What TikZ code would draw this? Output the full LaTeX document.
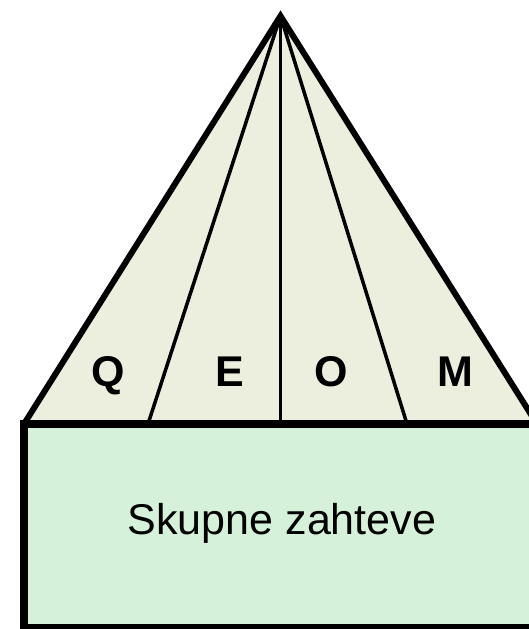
\documentclass[tikz,border=0pt]{standalone}
\usepackage{fontspec}
\setmainfont{Liberation Sans}
\definecolor{trifill}{RGB}{236,239,222}
\definecolor{boxfill}{RGB}{214,241,217}
\tikzset{
  outline/.style={draw=black, line width=6pt, line join=miter},
  boxline/.style={draw=black, line width=7.5pt, line join=miter},
  divider/.style={draw=black, line width=3.5pt},
  letter/.style={anchor=base, inner sep=0pt, font=\fontsize{43}{50}\selectfont\bfseries},
  boxtext/.style={anchor=base, inner sep=0pt, font=\fontsize{43}{50}\selectfont}
}
\begin{document}
\begin{tikzpicture}[x=1pt,y=-1pt]
\useasboundingbox (0,0) rectangle (529,629);
\clip (0,0) rectangle (529,629);
\coordinate (apex) at (280.5,16);
\coordinate (bl) at (24,424);
\coordinate (br) at (537,424);
\coordinate (d1) at (148,424);
\coordinate (d2) at (280.5,424);
\coordinate (d3) at (407,424);
\coordinate (rbl) at (24,628);
\coordinate (rbr) at (545,628);
% box
\fill[boxfill] (bl) rectangle (rbr);
% triangle
\fill[trifill] (bl) -- (apex) -- (br) -- cycle;
\draw[divider] (apex) -- (d1);
\draw[divider] (apex) -- (d2);
\draw[divider] (apex) -- (d3);
\draw[outline] (bl) -- (apex) -- (br);
\draw[boxline] (545,424) -- (bl) -- (rbl) -- (rbr);
% labels
\node[letter] (q) at (108,386) {Q};
\node[letter] (e) at (229.5,386) {E};
\node[letter] (o) at (331,386) {O};
\node[letter] (m) at (455,386) {M};
\node[boxtext] (sk) at (282,534) {Skupne zahteve};
\end{tikzpicture}
\end{document}
